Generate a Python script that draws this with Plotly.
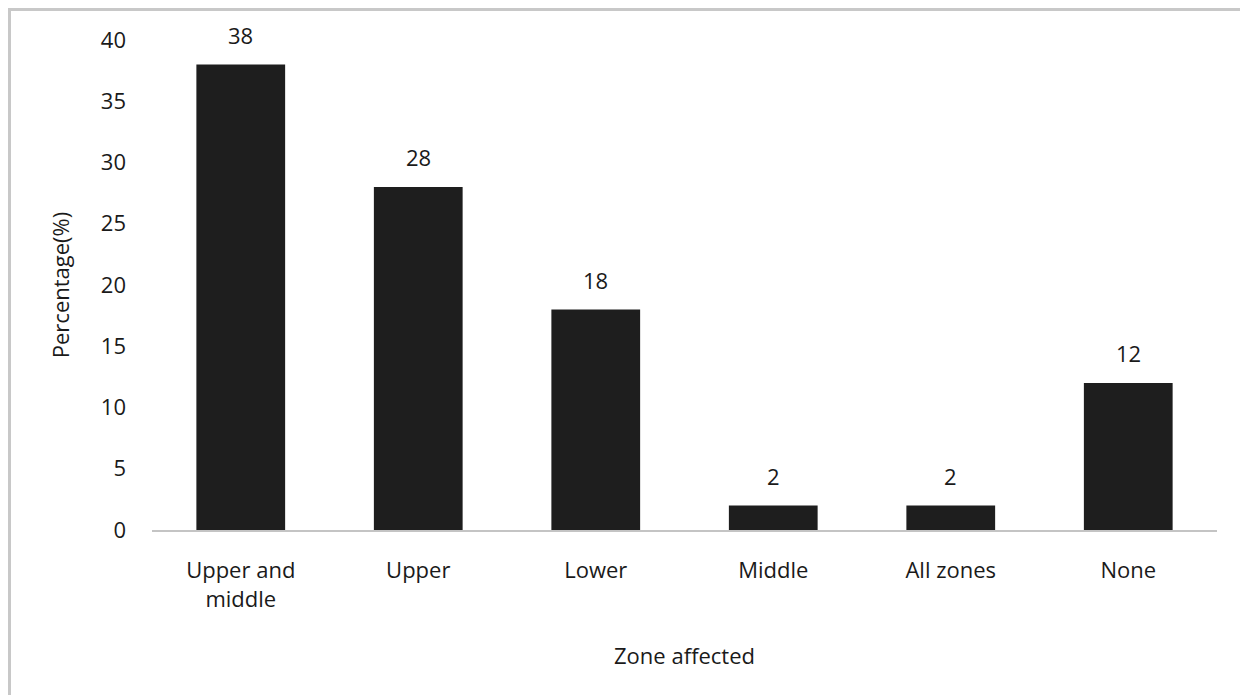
import plotly.graph_objects as go

categories = ["Upper and<br>middle", "Upper", "Lower", "Middle", "All zones", "None"]
values = [38, 28, 18, 2, 2, 12]
y_ticks = [0, 5, 10, 15, 20, 25, 30, 35, 40]

FONT = "Open Sans"
TXT = "#1a1a1a"
FS = 22

fig = go.Figure()
fig.add_trace(go.Bar(
    x=categories,
    y=values,
    width=0.5,
    marker=dict(color="#1e1e1e", line=dict(width=0)),
))

for c, v in zip(categories, values):
    fig.add_annotation(
        x=c, y=v, text=str(v), showarrow=False,
        yanchor="bottom", yshift=13,
        font=dict(family=FONT, size=FS, color=TXT),
    )

fig.update_layout(
    width=1248, height=695,
    margin=dict(l=144, r=39, t=32, b=173),
    paper_bgcolor="white", plot_bgcolor="white",
    showlegend=False,
    font=dict(family=FONT, size=FS, color=TXT),
    bargap=0.5,
    xaxis=dict(
        showline=True, linecolor="#c4c4c4", linewidth=2,
        showgrid=False, ticks="", ticklabelstandoff=20,
        tickfont=dict(family=FONT, size=FS, color=TXT),
        title=dict(text="Zone affected", font=dict(family=FONT, size=FS, color=TXT), standoff=37),
    ),
    yaxis=dict(
        range=[0, 40], tickvals=y_ticks,
        showline=False, showgrid=False, zeroline=False, ticks="",
        ticklabelstandoff=25,
        tickfont=dict(family=FONT, size=FS, color=TXT),
        title=dict(text="Percentage(%)", font=dict(family=FONT, size=FS, color=TXT), standoff=25),
    ),
    shapes=[dict(
        type="rect", xref="paper", yref="paper",
        x0=-0.1338, x1=1.1, y0=-0.5, y1=1.062,
        line=dict(color="#c8c8c8", width=3), fillcolor="rgba(0,0,0,0)", layer="below",
    )],
)

fig.write_html("out.html")
